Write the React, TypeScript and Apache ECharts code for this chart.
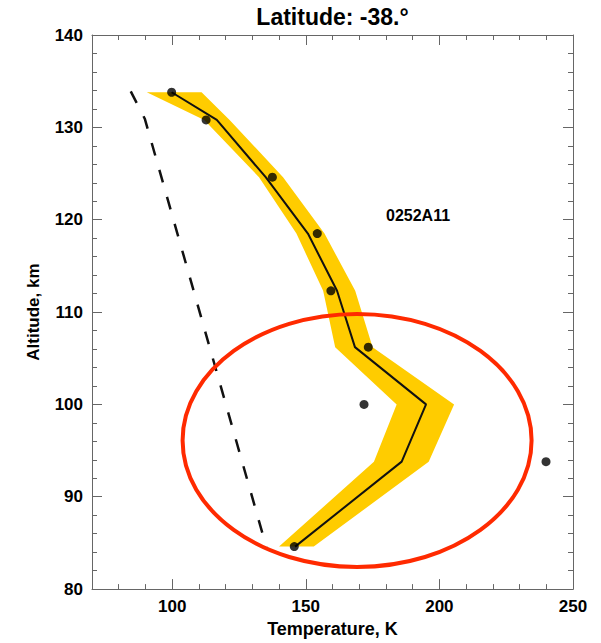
import React, { useEffect, useRef } from "react";
import * as echarts from "echarts";

// Retrieved temperature profile (altitude in km, temperature in K)
const altitude = [133.8, 130.8, 124.6, 118.5, 112.3, 106.2, 100.0, 93.8, 84.6];
const profileTemp = [99.8, 116.7, 135.0, 150.8, 161.7, 168.4, 195.0, 185.9, 146.0];
// Uncertainty envelope around the profile
const bandLow = [90.5, 112.0, 132.5, 146.5, 156.5, 161.0, 184.0, 175.5, 140.0];
const bandHigh = [111.0, 121.5, 141.5, 157.0, 168.5, 175.0, 205.5, 196.0, 153.0];
// Individual measurements
const obsTemp = [99.8, 112.7, 137.5, 154.3, 159.4, 173.4, 171.8, 239.9, 145.7];
const obsAlt = [133.8, 130.8, 124.6, 118.5, 112.3, 106.2, 100.0, 93.8, 84.6];
// Reference model profile (dashed)
const modelTemp = [84.5, 89.8, 135.3];
const modelAlt = [133.9, 130.9, 84.5];
// Axis ticks
const xMajorTicks = [100, 150, 200, 250];
// Highlight ellipse: centre and semi-axes in data units
const ellipseCenter = [169.2, 96.1];
const ellipseRadius = [65.3, 13.7];

const FONT = "'Liberation Sans', Arial, Helvetica, sans-serif";
const AXIS_COLOR = "#666";

const GRID = { left: 92, right: 28, top: 35, bottom: 53 };

function minorXAxis(position: "bottom" | "top") {
  return {
    type: "value",
    position,
    min: 70,
    max: 250,
    interval: 10,
    axisLine: { show: true, onZero: false, lineStyle: { color: AXIS_COLOR, width: 1 } },
    axisTick: { show: true, inside: true, length: 5, lineStyle: { color: AXIS_COLOR } },
    axisLabel: { show: false },
    splitLine: { show: false },
  };
}

function majorXAxis(position: "bottom" | "top", withLabels: boolean) {
  return {
    type: "value",
    position,
    min: 70,
    max: 250,
    axisLine: { show: false, onZero: false },
    axisTick: {
      show: true,
      inside: true,
      length: 10,
      customValues: xMajorTicks,
      lineStyle: { color: AXIS_COLOR },
    },
    axisLabel: {
      show: withLabels,
      customValues: xMajorTicks,
      margin: 9,
      color: "#000",
      fontFamily: FONT,
      fontWeight: "bold",
      fontSize: 17,
    },
    splitLine: { show: false },
    name: withLabels ? "Temperature, K" : "",
    nameLocation: "middle",
    nameGap: 26,
    nameTextStyle: { color: "#000", fontFamily: FONT, fontWeight: "bold", fontSize: 18 },
  };
}

function yAxis(position: "left" | "right", withLabels: boolean) {
  return {
    type: "value",
    position,
    min: 80,
    max: 140,
    interval: 10,
    axisLine: { show: true, onZero: false, lineStyle: { color: AXIS_COLOR, width: 1 } },
    axisTick: { show: true, inside: true, length: 10, lineStyle: { color: AXIS_COLOR } },
    minorTick: { show: true, splitNumber: 5, length: 5, lineStyle: { color: AXIS_COLOR } },
    axisLabel: {
      show: withLabels,
      margin: 9,
      color: "#000",
      fontFamily: FONT,
      fontWeight: "bold",
      fontSize: 17,
    },
    splitLine: { show: false },
    minorSplitLine: { show: false },
    name: withLabels ? "Altitude, km" : "",
    nameLocation: "middle",
    nameGap: 50,
    nameTextStyle: { color: "#000", fontFamily: FONT, fontWeight: "bold", fontSize: 17 },
  };
}

export default function App() {
  const ref = useRef<HTMLDivElement>(null);

  useEffect(() => {
    if (!ref.current) return;
    const chart = echarts.init(ref.current, undefined, { renderer: "svg" });

    const option: any = {
      animation: false,
      backgroundColor: "#fff",
      grid: { ...GRID, containLabel: false },
      xAxis: [
        minorXAxis("bottom"),
        majorXAxis("bottom", true),
        minorXAxis("top"),
        majorXAxis("top", false),
      ],
      yAxis: [yAxis("left", true), yAxis("right", false)],
      series: [
        {
          type: "custom",
          name: "envelope",
          xAxisIndex: 0,
          yAxisIndex: 0,
          silent: true,
          z: 1,
          data: [[bandLow[0], altitude[0]]],
          renderItem: (_params: any, api: any) => {
            const pts: number[][] = [];
            for (let i = 0; i < altitude.length; i++) {
              pts.push(api.coord([bandLow[i], altitude[i]]));
            }
            for (let i = altitude.length - 1; i >= 0; i--) {
              pts.push(api.coord([bandHigh[i], altitude[i]]));
            }
            return {
              type: "polygon",
              shape: { points: pts },
              style: { fill: "#ffcc00", stroke: "none" },
            };
          },
        },
        {
          type: "line",
          name: "model",
          xAxisIndex: 0,
          yAxisIndex: 0,
          z: 2,
          symbol: "none",
          silent: true,
          lineStyle: { color: "#111", width: 2.5, type: [13, 15] },
          data: modelTemp.map((t, i) => [t, modelAlt[i]]),
        },
        {
          type: "line",
          name: "profile",
          xAxisIndex: 0,
          yAxisIndex: 0,
          z: 3,
          symbol: "none",
          silent: true,
          lineStyle: { color: "#111", width: 2 },
          data: profileTemp.map((t, i) => [t, altitude[i]]),
        },
        {
          type: "scatter",
          name: "observed",
          xAxisIndex: 0,
          yAxisIndex: 0,
          z: 4,
          symbol: "circle",
          symbolSize: 9,
          silent: true,
          itemStyle: { color: "#000" },
          data: obsTemp.map((t, i) => [t, obsAlt[i]]),
        },
      ],
    };
    chart.setOption(option);

    // Title centred over the plot area, label and highlight ellipse
    const gridCenterX = GRID.left + (601 - GRID.left - GRID.right) / 2;
    const p0 = chart.convertToPixel({ xAxisIndex: 0, yAxisIndex: 0 }, [
      ellipseCenter[0] - ellipseRadius[0],
      ellipseCenter[1] + ellipseRadius[1],
    ]) as number[];
    const p1 = chart.convertToPixel({ xAxisIndex: 0, yAxisIndex: 0 }, [
      ellipseCenter[0] + ellipseRadius[0],
      ellipseCenter[1] - ellipseRadius[1],
    ]) as number[];

    chart.setOption({
      graphic: [
        {
          type: "text",
          z: 10,
          style: {
            text: "Latitude: -38.°",
            x: gridCenterX,
            y: 5,
            textAlign: "center",
            textVerticalAlign: "top",
            fill: "#000",
            fontFamily: FONT,
            fontWeight: "bold",
            fontSize: 23,
          },
        },
        {
          type: "text",
          z: 10,
          style: {
            text: "0252A11",
            x: 386,
            y: 215,
            textAlign: "left",
            textVerticalAlign: "middle",
            fill: "#000",
            fontFamily: FONT,
            fontWeight: "bold",
            fontSize: 16,
          },
        },
        {
          type: "ellipse",
          z: 10,
          silent: true,
          shape: {
            cx: (p0[0] + p1[0]) / 2,
            cy: (p0[1] + p1[1]) / 2,
            rx: Math.abs(p1[0] - p0[0]) / 2,
            ry: Math.abs(p1[1] - p0[1]) / 2,
          },
          style: { fill: "none", stroke: "#ff2a00", lineWidth: 4 },
        },
      ],
    });

    return () => chart.dispose();
  }, []);

  return (
    <div
      ref={ref}
      style={{ position: "fixed", left: 0, top: 0, width: 601, height: 643, background: "#fff" }}
    />
  );
}
